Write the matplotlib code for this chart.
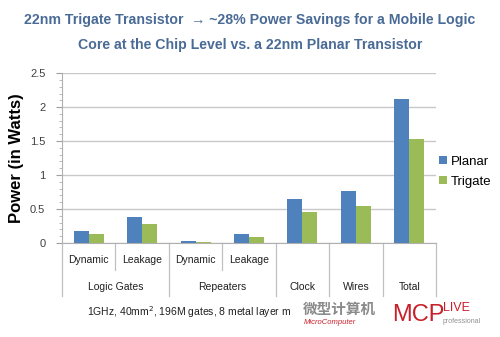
import numpy as np
import matplotlib.pyplot as plt
from matplotlib.transforms import blended_transform_factory

plt.rcParams['font.family'] = ['Liberation Sans', 'DejaVu Sans']

# data
sub_labels = ['Dynamic', 'Leakage', 'Dynamic', 'Leakage', '', '', '']
groups = ['Logic Gates', 'Repeaters', 'Clock', 'Wires', 'Total']
group_spans = [(0, 1), (2, 3), (4, 4), (5, 5), (6, 6)]
planar = [0.18, 0.38, 0.03, 0.13, 0.64, 0.76, 2.12]
trigate = [0.13, 0.28, 0.02, 0.09, 0.46, 0.54, 1.53]

blue = '#4f81bd'
green = '#9bbb59'
grid_c = '#c8c8c8'

fig = plt.figure(figsize=(5, 3.37), dpi=100)
ax = fig.add_axes([0.124, 0.279, 0.748, 0.504])

x = np.arange(len(planar))
w = 0.28
ax.bar(x - w / 2, planar, w, color=blue, label='Planar', zorder=3)
ax.bar(x + w / 2, trigate, w, color=green, label='Trigate', zorder=3)

ax.set_xlim(-0.5, len(planar) - 0.5)
ax.set_ylim(0, 2.5)
ax.set_yticks(np.arange(0, 2.51, 0.5))
ax.set_yticklabels(['0', '0.5', '1', '1.5', '2', '2.5'], fontsize=8, color='#404040')
ax.set_yticks(np.arange(0, 2.51, 0.1), minor=True)
ax.tick_params(axis='y', which='major', length=4, color='#a0a0a0', pad=8)
ax.tick_params(axis='y', which='minor', length=2, color='#b0b0b0')
ax.set_xticks([])
ax.yaxis.grid(True, color=grid_c, linewidth=1, zorder=0)
for s in ['top', 'right']:
    ax.spines[s].set_visible(False)
ax.spines['left'].set_color('#b0b0b0')
ax.spines['bottom'].set_color('#b0b0b0')

ax.set_ylabel('Power (in Watts)', fontsize=12, fontweight='bold', labelpad=4)

# hierarchical category axis
tr = blended_transform_factory(ax.transData, ax.transAxes)
for i, lab in enumerate(sub_labels):
    if lab:
        ax.text(i, -0.1, lab, transform=tr, ha='center', va='center', fontsize=7.5, color='#202020')
for (a, b), g in zip(group_spans, groups):
    ax.text((a + b) / 2, -0.26, g, transform=tr, ha='center', va='center', fontsize=7.5, color='#202020')

short_seps = [0.5, 2.5]
long_seps = [-0.5, 1.5, 3.5, 4.5, 5.5, 6.5]
for s in short_seps:
    ax.plot([s, s], [0, -0.16], transform=tr, color='#c0c0c0', lw=0.9, clip_on=False)
for s in long_seps:
    ax.plot([s, s], [0, -0.31], transform=tr, color='#c0c0c0', lw=0.9, clip_on=False)

ax.legend(loc='center left', bbox_to_anchor=(1.0, 0.42), frameon=False, fontsize=9.5,
          borderaxespad=0, borderpad=0.2, handlelength=0.6, handleheight=0.6,
          handletextpad=0.3, labelspacing=0.6)

fig.text(0.5, 0.905, '22nm Trigate Transistor  \u2192 ~28% Power Savings for a Mobile Logic\n'
         'Core at the Chip Level vs. a 22nm Planar Transistor',
         ha='center', va='center', fontsize=10.2, fontweight='bold', color='#4a6b96',
         linespacing=2.0)

fig.text(0.174, 0.074, '1GHz, 40mm$^2$, 196M gates, 8 metal layer m', ha='left', va='center',
         fontsize=7.5, color='#202020')

# watermark
fig.text(0.605, 0.082, '微型计算机', ha='left', va='center', fontsize=10.5, fontweight='bold',
         color='#8a8a8a', family=['Noto Sans CJK SC', 'DejaVu Sans'])
fig.text(0.607, 0.043, 'MicroComputer', ha='left', va='center', fontsize=5.5, style='italic',
         color='#c8202a')
fig.text(0.785, 0.065, 'MCP', ha='left', va='center', fontsize=17, color='#c8202a')
fig.text(0.885, 0.085, 'LIVE', ha='left', va='center', fontsize=9, color='#c8202a')
fig.text(0.885, 0.045, 'professional', ha='left', va='center', fontsize=5, color='#909090')

fig.savefig('out.png', dpi=100)
